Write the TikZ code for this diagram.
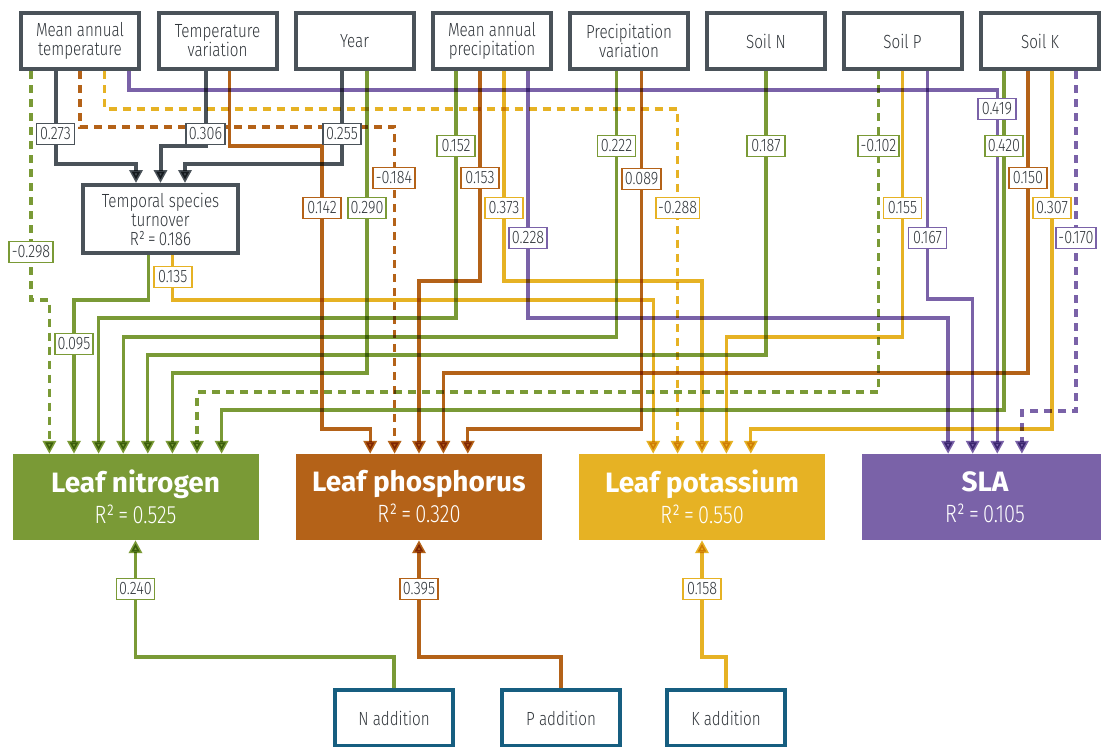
\documentclass[tikz,border=0pt]{standalone}
\usepackage{fontspec}
\setmainfont{Fira Sans}[FakeStretch=0.8,UprightFont=* Light]
\newfontfamily\headfont{Fira Sans}
\usetikzlibrary{arrows.meta}

\definecolor{cgreen}{HTML}{7A9A36}
\definecolor{corange}{HTML}{B46218}
\definecolor{cyellow}{HTML}{E6B224}
\definecolor{cpurple}{HTML}{7A62A8}
\definecolor{cgray}{HTML}{4A5259}
\definecolor{cblue}{HTML}{165E80}
\definecolor{ctext}{HTML}{30353A}

\begin{document}
\begin{tikzpicture}[x=1pt,y=-1pt,
  font=\fontsize{19}{19}\selectfont,
  topbox/.style={draw=cgray,line width=4pt,fill=white,text=ctext,
    minimum width=118pt,minimum height=56pt,align=center,inner sep=0pt},
  addbox/.style={draw=cblue,line width=4pt,fill=white,text=ctext,
    minimum width=118pt,minimum height=56pt,align=center,inner sep=0pt},
  leafbox/.style={fill=#1,draw=none,text=white,minimum width=246pt,
    minimum height=86pt,align=center,inner sep=0pt,
    font=\fontsize{25}{31}\selectfont},
  coef/.style={draw=#1,line width=1.8pt,fill=white,text=ctext,
    font=\fontsize{18}{18}\selectfont,inner xsep=2.5pt,inner ysep=0pt,
    minimum width=38pt,minimum height=21pt},
  link/.style={draw=#1,line width=3.3pt},
  neg/.style={dash pattern=on 8pt off 6pt},
  arrowed/.style={-{Triangle[length=13pt,width=13pt]}},
]
\useasboundingbox (0,0) rectangle (1101,747);
\fill[white] (0,0) rectangle (1101,747);

% predictor boxes along the top
\node[topbox] (mat)   at (80,41)    {Mean annual\\temperature};
\node[topbox] (tv)    at (217.5,41) {Temperature\\variation};
\node[topbox] (year)  at (354.5,41) {Year};
\node[topbox] (map)   at (492,41)   {Mean annual\\precipitation};
\node[topbox] (pv)    at (629,41)   {Precipitation\\variation};
\node[topbox] (soiln) at (766,41)   {Soil N};
\node[topbox] (soilp) at (902.5,41) {Soil P};
\node[topbox] (soilk) at (1040,41)  {Soil K};

% intermediate variable
\node[topbox,minimum width=155pt,minimum height=68pt] (tst) at (160.5,219)
  {Temporal species\\turnover\\R²\,=\,0.186};

% leaf traits
\node[leafbox=cgreen]  (leafn) at (135.5,497)
  {{\headfont\bfseries\fontsize{28}{31}\selectfont Leaf nitrogen}\\R²\,=\,0.525};
\node[leafbox=corange] (leafp) at (419,497)
  {{\headfont\bfseries\fontsize{28}{31}\selectfont Leaf phosphorus}\\R²\,=\,0.320};
\node[leafbox=cyellow] (leafk) at (702,497)
  {{\headfont\bfseries\fontsize{28}{31}\selectfont Leaf potassium}\\R²\,=\,0.550};
\node[leafbox=cpurple] (sla)   at (985,497)
  {{\headfont\bfseries\fontsize{28}{31}\selectfont SLA}\\R²\,=\,0.105};

% fertiliser treatments
\node[addbox] (nadd) at (394,718) {N addition};
\node[addbox] (padd) at (561,718) {P addition};
\node[addbox] (kadd) at (726,718) {K addition};

\begin{scope}[blend mode=multiply]
% paths into temporal species turnover
\draw[link=cgray,line width=4pt,arrowed] ([xshift=-24.5pt]mat.south) -- ++(0,93) -| ([xshift=-24.5pt]tst.north);
\draw[link=cgray,line width=4pt,arrowed] ([xshift=-12pt]tv.south) -- ++(0,75) -| (tst.north);
\draw[link=cgray,line width=4pt,arrowed] ([xshift=-12.5pt]year.south) -- ++(0,93) -| ([xshift=24.5pt]tst.north);

% mean annual temperature
\draw[link=cgreen,neg,arrowed]  ([xshift=-49pt]mat.south) -- ++(0,229) -| ([xshift=-86.1pt]leafn.north);
\draw[link=corange,neg,arrowed] (mat.south) -- ++(0,56) -| ([xshift=-24.4pt]leafp.north);
\draw[link=cyellow,neg,arrowed] ([xshift=24.5pt]mat.south) -- ++(0,38) -| ([xshift=-24.4pt]leafk.north);
\draw[link=cpurple,arrowed]     ([xshift=49pt]mat.south) -- ++(0,19) -| ([xshift=12.3pt]sla.north);

% temperature variation
\draw[link=corange,arrowed] ([xshift=12pt]tv.south) -- ++(0,75) -- ++(92.5,0) -- ++(0,283) -| ([xshift=-48.8pt]leafp.north);

% year
\draw[link=cgreen,arrowed] ([xshift=12.5pt]year.south) -- ++(0,302) -| ([xshift=36.9pt]leafn.north);

% mean annual precipitation
\draw[link=cgreen,arrowed]  ([xshift=-36pt]map.south) -- ++(0,247) -| ([xshift=-36.9pt]leafn.north);
\draw[link=corange,arrowed] ([xshift=-12pt]map.south) -- ++(0,210) -| (leafp.north);
\draw[link=cyellow,arrowed] ([xshift=12pt]map.south) -- ++(0,210) -| (leafk.north);
\draw[link=cpurple,arrowed] ([xshift=36pt]map.south) -- ++(0,247) -| ([xshift=-36.9pt]sla.north);

% precipitation variation
\draw[link=cgreen,arrowed]  ([xshift=-12.5pt]pv.south) -- ++(0,266) -| ([xshift=-12.3pt]leafn.north);
\draw[link=corange,arrowed] ([xshift=12.5pt]pv.south) -- ++(0,358) -| ([xshift=48.8pt]leafp.north);

% soil N
\draw[link=cgreen,arrowed] (soiln.south) -- ++(0,284) -| ([xshift=12.3pt]leafn.north);

% soil P
\draw[link=cgreen,neg,arrowed] ([xshift=-24pt]soilp.south) -- ++(0,321) -| ([xshift=61.5pt]leafn.north);
\draw[link=cyellow,arrowed]    (soilp.south) -- ++(0,266) -| ([xshift=24.4pt]leafk.north);
\draw[link=cpurple,arrowed]    ([xshift=25pt]soilp.south) -- ++(0,228) -| ([xshift=-12.3pt]sla.north);

% soil K
\draw[link=cgreen,arrowed]      ([xshift=-36pt]soilk.south) -- ++(0,339) -| ([xshift=86.1pt]leafn.north);
\draw[link=corange,arrowed]     ([xshift=-12pt]soilk.south) -- ++(0,302) -| ([xshift=24.4pt]leafp.north);
\draw[link=cyellow,arrowed]     ([xshift=12pt]soilk.south) -- ++(0,358) -| ([xshift=48.8pt]leafk.north);
\draw[link=cpurple,neg,arrowed] ([xshift=36pt]soilk.south) -- ++(0,340) -| ([xshift=36.9pt]sla.north);

% temporal species turnover
\draw[link=cgreen,arrowed]  ([xshift=-12.3pt]tst.south) -- ++(0,45) -| ([xshift=-61.5pt]leafn.north);
\draw[link=cyellow,arrowed] ([xshift=12.3pt]tst.south) -- ++(0,45) -| ([xshift=-48.8pt]leafk.north);

% fertiliser treatments
\draw[link=cgreen,arrowed]  (nadd.north) -- ++(0,-31) -| (leafn.south);
\draw[link=corange,arrowed] (padd.north) -- ++(0,-31) -| (leafp.south);
\draw[link=cyellow,arrowed] (kadd.north) -- ++(0,-31) -| (leafk.south);
\end{scope}

% path coefficients
\node[coef=cgray]   (c-mat-tst)  at (55.5,134)  {0.273};
\node[coef=cgray]   (c-tv-tst)   at (205.5,134) {0.306};
\node[coef=cgray]   (c-year-tst) at (342,134)   {0.255};
\node[coef=cpurple] (c-mat-sla)  at (997,109)   {0.419};
\node[coef=cgreen]  (c-map-n)    at (456,146)   {0.152};
\node[coef=cgreen]  (c-pv-n)     at (616.5,146) {0.222};
\node[coef=cgreen]  (c-sn-n)     at (766,146)   {0.187};
\node[coef=cgreen]  (c-sp-n)     at (878.5,146) {-0.102};
\node[coef=cgreen]  (c-sk-n)     at (1004,146)  {0.420};
\node[coef=corange] (c-mat-p)    at (394,178)   {-0.184};
\node[coef=corange] (c-map-p)    at (480,178)   {0.153};
\node[coef=corange] (c-pv-p)     at (641.5,179) {0.089};
\node[coef=corange] (c-sk-p)     at (1028,178)  {0.150};
\node[coef=corange] (c-tv-p)     at (322,208)   {0.142};
\node[coef=cgreen]  (c-year-n)   at (367,208)   {0.290};
\node[coef=cyellow] (c-map-k)    at (504,208)   {0.373};
\node[coef=cyellow] (c-mat-k)    at (677.6,208) {-0.288};
\node[coef=cyellow] (c-sp-k)     at (902.5,208) {0.155};
\node[coef=cyellow] (c-sk-k)     at (1052,208)  {0.307};
\node[coef=cpurple] (c-map-sla)  at (528,238)   {0.228};
\node[coef=cpurple] (c-sp-sla)   at (927.5,238) {0.167};
\node[coef=cpurple] (c-sk-sla)   at (1076,238)  {-0.170};
\node[coef=cgreen]  (c-mat-n)    at (31,252)    {-0.298};
\node[coef=cyellow] (c-tst-k)    at (172.8,277) {0.135};
\node[coef=cgreen]  (c-tst-n)    at (74,344)    {0.095};
\node[coef=cgreen]  (c-nadd)     at (135.5,589) {0.240};
\node[coef=corange] (c-padd)     at (419,589)   {0.395};
\node[coef=cyellow] (c-kadd)     at (702,589)   {0.158};
\end{tikzpicture}
\end{document}
